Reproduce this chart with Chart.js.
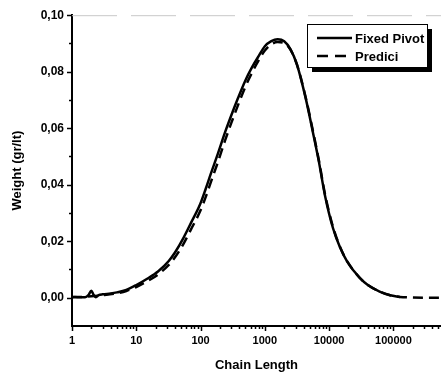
<!DOCTYPE html>
<html>
<head>
<meta charset="utf-8">
<script src="https://cdn.jsdelivr.net/npm/chart.js@4.4.1/dist/chart.umd.min.js"></script>
<style>
  html, body { margin: 0; padding: 0; background: #fff; }
  #wrap { width: 441px; height: 376px; }
</style>
</head>
<body>
<div id="wrap"><canvas id="chainChart" width="441" height="376"></canvas></div>
<script>
// values
const fixedLength = [1, 1.3, 1.6, 1.8, 2, 2.15, 2.35, 2.6, 3, 4, 5, 7, 10, 15, 22, 32, 40, 54, 71, 98, 120, 145, 186, 240, 300, 380, 500, 630, 800, 1000, 1260, 1580, 2000, 2500, 3160, 4360, 5600, 6950, 8600, 11500, 14800, 19000, 30000, 40000, 61000, 89000, 126000];
const fixedWeight = [0.0003, 0.0002, 0.0002, 0.0009, 0.0025, 0.0012, 0.0002, 0.0009, 0.0012, 0.0015, 0.0019, 0.0028, 0.0045, 0.0068, 0.0094, 0.0130, 0.0160, 0.0211, 0.0265, 0.0330, 0.0385, 0.0440, 0.0510, 0.0585, 0.0645, 0.0705, 0.0770, 0.0815, 0.0855, 0.0890, 0.0908, 0.0915, 0.0908, 0.0880, 0.0825, 0.0702, 0.0585, 0.0480, 0.0363, 0.0246, 0.0178, 0.0129, 0.0070, 0.0045, 0.0022, 0.0009, 0.0003];

const prediciLength = [1, 1.5, 2, 3, 5, 7, 10, 15, 22, 32, 40, 54, 71, 98, 120, 145, 186, 240, 300, 380, 500, 630, 800, 1000, 1260, 1580, 2000, 2500, 3160, 4360, 5600, 6950, 8600, 11500, 14800, 19000, 30000, 40000, 61000, 89000, 126000, 200000, 550000];
const prediciWeight = [0.0002, 0.0003, 0.0005, 0.0009, 0.0016, 0.0024, 0.0038, 0.0059, 0.0083, 0.0116, 0.0143, 0.0190, 0.0242, 0.0305, 0.0356, 0.0410, 0.0480, 0.0556, 0.0618, 0.0680, 0.0748, 0.0796, 0.0840, 0.0875, 0.0897, 0.0905, 0.0902, 0.0878, 0.0825, 0.0705, 0.0590, 0.0485, 0.0368, 0.0250, 0.0180, 0.0130, 0.0070, 0.0045, 0.0022, 0.0009, 0.0003, 0.0001, 0.0];

const xMajorTicks = [1, 10, 100, 1000, 10000, 100000];
const yTickLabels = ["0,00", "0,02", "0,04", "0,06", "0,08", "0,10"];

const X_MAX = 550000;
const FONT = "'Liberation Sans', Arial, sans-serif";

// minor log ticks 2..9 of each decade, up to the axis end
const xTicks = [];
xMajorTicks.forEach((d) => {
  for (let k = 1; k <= 9; k++) {
    if (d * k <= X_MAX) xTicks.push(d * k);
  }
});

// tick marks + top border + boxed legend
const axisDeco = {
  id: "axisDeco",
  afterDraw(chart) {
    const ctx = chart.ctx;
    const a = chart.chartArea;
    const xs = chart.scales.x;
    const ys = chart.scales.y;
    ctx.save();
    ctx.strokeStyle = "#000";
    ctx.lineWidth = 1.5;
    xs.ticks.forEach((t) => {
      const px = Math.round(xs.getPixelForValue(t.value)) + 0.5;
      const len = xMajorTicks.includes(t.value) ? 5 : 3;
      ctx.beginPath();
      ctx.moveTo(px, a.bottom);
      ctx.lineTo(px, a.bottom + len);
      ctx.stroke();
    });
    ys.ticks.forEach((t) => {
      const v = Math.round(t.value * 100);
      if (v < 0) return;
      const py = Math.round(ys.getPixelForValue(t.value)) + 0.5;
      const len = v % 2 === 0 ? 5 : 3;
      ctx.beginPath();
      ctx.moveTo(a.left - len, py);
      ctx.lineTo(a.left, py);
      ctx.stroke();
    });

    // faint top frame
    ctx.strokeStyle = "#c8c8c8";
    ctx.lineWidth = 1;
    ctx.setLineDash([45, 14]);
    ctx.beginPath();
    ctx.moveTo(a.left, a.top + 0.5);
    ctx.lineTo(a.right, a.top + 0.5);
    ctx.stroke();
    ctx.setLineDash([]);

    // legend box with shadow
    const bx = 307, by = 24, bw = 120, bh = 43;
    ctx.fillStyle = "#000";
    ctx.fillRect(bx + 5, by + 5, bw, bh);
    ctx.fillStyle = "#fff";
    ctx.fillRect(bx, by, bw, bh);
    ctx.strokeStyle = "#000";
    ctx.lineWidth = 1;
    ctx.strokeRect(bx + 0.5, by + 0.5, bw, bh);

    ctx.font = "bold 13px " + FONT;
    ctx.textBaseline = "middle";
    ctx.textAlign = "left";
    chart.data.datasets.forEach((ds, i) => {
      const ly = by + 14 + i * 18;
      ctx.strokeStyle = ds.borderColor;
      ctx.lineWidth = ds.borderWidth;
      ctx.setLineDash(ds.borderDash ? [11, 7] : []);
      ctx.beginPath();
      ctx.moveTo(bx + 10, ly);
      ctx.lineTo(bx + 45, ly);
      ctx.stroke();
      ctx.setLineDash([]);
      ctx.fillStyle = "#000";
      ctx.fillText(ds.label, bx + 48, ly + 1);
    });
    ctx.restore();
  },
};

const data = {
  datasets: [
    {
      label: "Fixed Pivot",
      data: fixedLength.map((x, i) => ({ x: x, y: fixedWeight[i] })),
      borderColor: "#000",
      borderWidth: 2.5,
      pointRadius: 0,
      tension: 0.4,
      cubicInterpolationMode: "monotone",
    },
    {
      label: "Predici",
      data: prediciLength.map((x, i) => ({ x: x, y: prediciWeight[i] })),
      borderColor: "#000",
      borderWidth: 2.5,
      borderDash: [10, 6],
      pointRadius: 0,
      tension: 0.4,
      cubicInterpolationMode: "monotone",
    },
  ],
};

const config = {
  type: "line",
  data: data,
  plugins: [axisDeco],
  options: {
    responsive: false,
    animation: false,
    layout: { padding: { top: 12, right: 0, left: 0, bottom: 0 } },
    plugins: {
      legend: { display: false },
      tooltip: { enabled: false },
    },
    scales: {
      x: {
        type: "logarithmic",
        min: 1,
        max: X_MAX,
        afterBuildTicks: (scale) => {
          scale.ticks = xTicks.map((v) => ({ value: v }));
        },
        afterFit: (scale) => {
          scale.height = 50;
          scale.paddingLeft = 0;
          scale.paddingRight = 0;
        },
        grid: { display: false, drawTicks: false },
        border: { display: true, color: "#000", width: 2 },
        ticks: {
          autoSkip: false,
          maxRotation: 0,
          padding: 8,
          color: "#000",
          font: { family: FONT, size: 11, weight: "bold" },
          callback: (v) => (xMajorTicks.includes(v) ? String(v) : ""),
        },
        title: {
          display: true,
          text: "Chain Length",
          color: "#000",
          font: { family: FONT, size: 13, weight: "bold" },
          padding: { top: 0, bottom: 3 },
        },
      },
      y: {
        min: -0.01,
        max: 0.1,
        afterFit: (scale) => {
          scale.width = 72;
        },
        grid: { display: false, drawTicks: false },
        border: { display: true, color: "#000", width: 2 },
        ticks: {
          stepSize: 0.01,
          autoSkip: false,
          padding: 8,
          color: "#000",
          font: { family: FONT, size: 12, weight: "bold" },
          callback: (v) => {
            const n = Math.round(v * 100);
            if (n < 0 || n % 2 !== 0) return "";
            return yTickLabels[n / 2];
          },
        },
        title: {
          display: true,
          text: "Weight (gr/lt)",
          color: "#000",
          font: { family: FONT, size: 13, weight: "bold" },
          padding: { top: 10, bottom: 0 },
        },
      },
    },
  },
};

let myChart = new Chart(document.getElementById("chainChart"), config);
</script>
</body>
</html>
